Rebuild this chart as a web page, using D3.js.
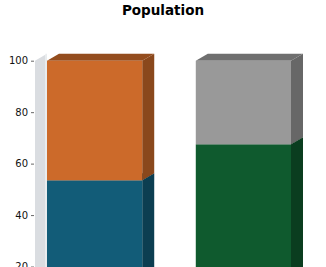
<!DOCTYPE html>
<html>
<head>
<meta charset="utf-8">
<script src="https://cdn.jsdelivr.net/npm/d3@7"></script>
<style>
  body { margin: 0; background: #fff; }
  svg { display: block; font-family: "DejaVu Sans", sans-serif; }
</style>
</head>
<body>
<div id="chart"></div>
<script>
// chart data
const categories = ['Group A', 'Group B'];
const lowerValues = [53.5, 67.5];
const upperValues = [46.5, 32.5];
const lowerColors = ['#125c78', '#0f5a2e'];
const upperColors = ['#cc6a2a', '#999999'];
const yTicks = [20, 40, 60, 80, 100];

document.addEventListener('DOMContentLoaded', function() {
  const width = 326, height = 267;
  const depthX = 12, depthY = 7;

  const svg = d3.select('#chart')
    .append('svg')
    .attr('width', width)
    .attr('height', height);

  const y = d3.scaleLinear().domain([0, 100]).range([318, 60.7]);
  const x = d3.scaleBand().domain(categories).range([47, 291]).paddingInner(0.36);

  // title
  svg.append('text')
    .attr('x', 163)
    .attr('y', 15)
    .attr('text-anchor', 'middle')
    .style('font-size', '13.5px')
    .style('font-weight', 'bold')
    .text('Population');

  // left wall
  const wallX = 35;
  svg.append('polygon')
    .attr('points', [
      [wallX, y(100)], [wallX + depthX, y(100) - depthY],
      [wallX + depthX, height + 20], [wallX, height + 20]
    ].join(' '))
    .attr('fill', '#dadde1');
  svg.append('line')
    .attr('x1', wallX + depthX - 1).attr('x2', wallX + depthX - 1)
    .attr('y1', y(100) - depthY).attr('y2', height + 20)
    .attr('stroke', '#eef0f2').attr('stroke-width', 1.5);

  // y axis
  const axis = svg.append('g')
    .attr('transform', `translate(${wallX - 1},0)`)
    .call(d3.axisLeft(y).tickValues(yTicks).tickSize(3).tickPadding(3));
  axis.select('.domain').remove();
  axis.selectAll('.tick line').attr('stroke', '#666');
  axis.selectAll('text').style('font-size', '10px').style('font-family', '"DejaVu Sans", sans-serif').attr('fill', '#111');

  function shade(c, k) {
    return d3.color(c).darker(k).formatHex();
  }

  // one 3d box
  function box(g, x0, w, v0, v1, color) {
    const yTop = y(v1), yBot = y(v0);
    g.append('polygon')
      .attr('points', [[x0 + w, yTop], [x0 + w + depthX, yTop - depthY],
        [x0 + w + depthX, yBot - depthY], [x0 + w, yBot]].join(' '))
      .attr('fill', shade(color, 1.1));
    g.append('polygon')
      .attr('points', [[x0, yTop], [x0 + depthX, yTop - depthY],
        [x0 + w + depthX, yTop - depthY], [x0 + w, yTop]].join(' '))
      .attr('fill', shade(color, 0.9));
    g.append('rect')
      .attr('x', x0).attr('y', yTop)
      .attr('width', w).attr('height', yBot - yTop)
      .attr('fill', color);
  }

  const bars = svg.append('g');
  categories.forEach((c, i) => {
    const g = bars.append('g');
    box(g, x(c), x.bandwidth(), 0, lowerValues[i], lowerColors[i]);
    box(g, x(c), x.bandwidth(), lowerValues[i], lowerValues[i] + upperValues[i], upperColors[i]);
  });
});
</script>
</body>
</html>
